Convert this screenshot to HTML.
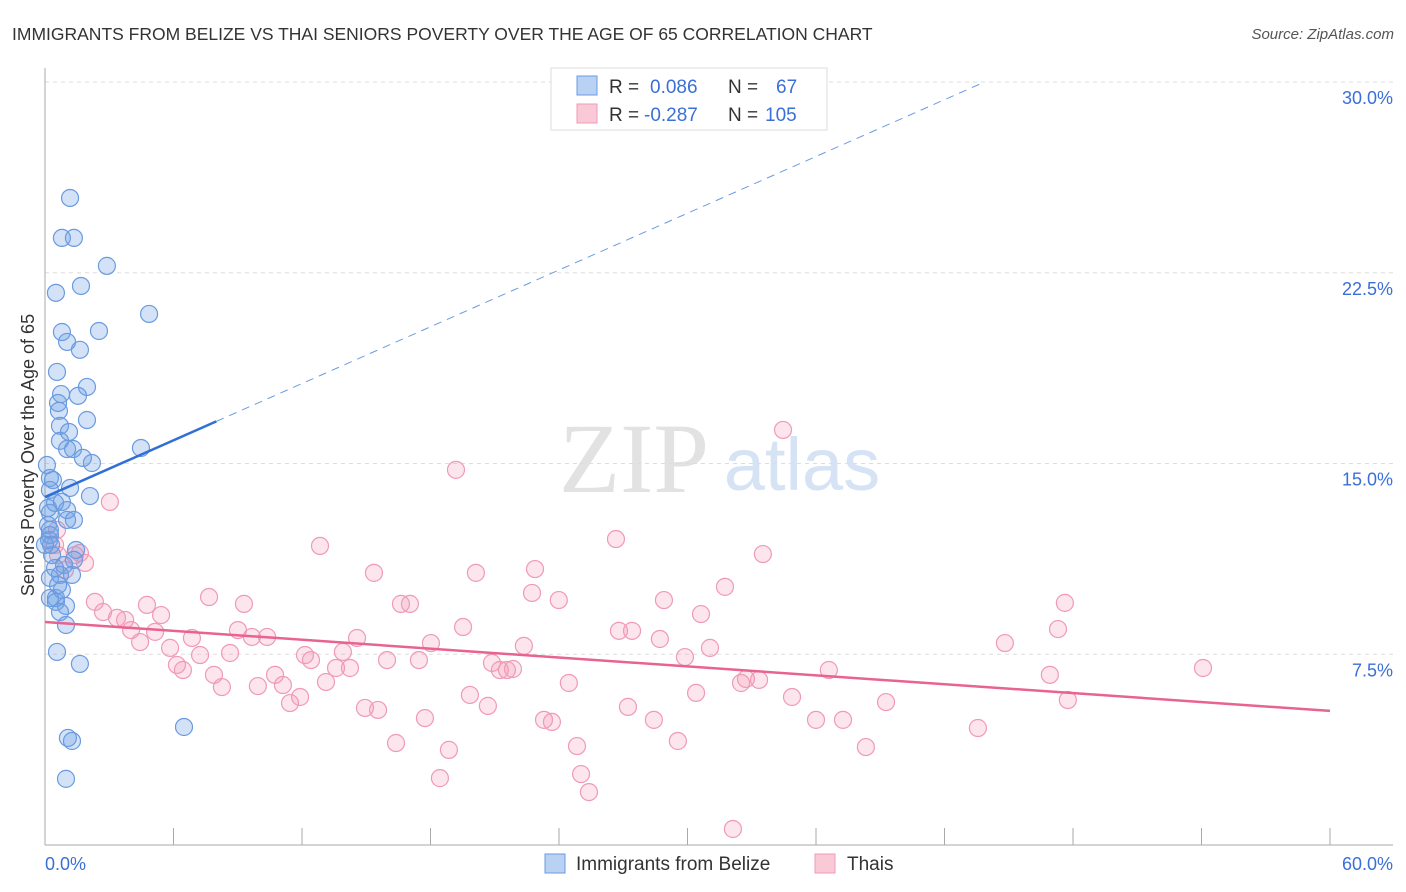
<!DOCTYPE html>
<html><head><meta charset="utf-8">
<style>
body{margin:0;background:#fff;font-family:"Liberation Sans",sans-serif;}
svg{display:block}
</style></head>
<body>
<svg id="chart" width="1406" height="892">
<text x="12" y="40" font-size="17.5" fill="#333">IMMIGRANTS FROM BELIZE VS THAI SENIORS POVERTY OVER THE AGE OF 65 CORRELATION CHART</text>
<text x="1394" y="39" font-size="15" fill="#555" font-style="italic" text-anchor="end">Source: ZipAtlas.com</text>
<g>
<text x="634" y="492" font-size="100" font-family="Liberation Serif,serif" fill="#e2e2e2" text-anchor="middle">ZIP</text>
<text x="802" y="490" font-size="74" fill="#d5e3f5" text-anchor="middle">atlas</text>
</g>
<g id="grid"></g>
<g id="axes"></g>
<g id="points"></g>
<g id="trends"></g>
<text transform="translate(34,455) rotate(-90)" font-size="18" fill="#333" text-anchor="middle">Seniors Poverty Over the Age of 65</text>
<g>
<rect x="551" y="68" width="276" height="62" fill="#fff" stroke="#ddd"/>
<rect x="577" y="76" width="20" height="19" fill="#b9d1f3" stroke="#6a9be0"/>
<rect x="577" y="104" width="20" height="19" fill="#f9c9d7" stroke="#f09ab5"/>
<text x="609" y="93" font-size="19" fill="#333">R = <tspan fill="#3a6fd8" x="650">0.086</tspan><tspan x="728">N =</tspan><tspan fill="#3a6fd8" x="776">67</tspan></text>
<text x="609" y="121" font-size="19" fill="#333">R = <tspan fill="#3a6fd8" x="644">-0.287</tspan><tspan x="728">N =</tspan><tspan fill="#3a6fd8" x="765">105</tspan></text>
</g>
<g>
<rect x="545" y="854" width="20" height="19" fill="#b9d1f3" stroke="#6a9be0"/>
<text x="576" y="870" font-size="19" fill="#333">Immigrants from Belize</text>
<rect x="815" y="854" width="20" height="19" fill="#f9c9d7" stroke="#f09ab5"/>
<text x="847" y="870" font-size="19" fill="#333">Thais</text>
</g>
</svg>
<script>
const yTicks=[7.5,15,22.5,30];
const yTickLabels=["7.5%","15.0%","22.5%","30.0%"];
const xTicks=[0,6,12,18,24,30,36,42,48,54,60];
const xEndLabels=["0.0%","60.0%"];
const belizeX=[1.17,0.79,1.35,2.89,0.51,1.68,4.86,2.52,0.79,1.03,1.63,0.56,1.96,0.75,1.54,0.61,1.96,0.65,0.70,1.12,0.70,1.03,1.31,2.19,1.77,4.48,0.09,0.23,1.17,0.23,2.10,0.47,0.79,1.03,0.23,1.03,1.35,0.14,0.23,0.19,0.28,1.45,0.33,1.35,0.89,0.47,1.26,0.70,0.23,0.23,0.51,0.98,0.51,0.70,0.98,0.56,1.63,6.49,1.07,1.26,0.98,0.23,0,0.14,0.37,0.79,0.61];
const belizeY=[25.44,23.87,23.87,22.77,21.71,21.98,20.88,20.21,20.17,19.78,19.47,18.60,18.01,17.73,17.66,17.38,16.71,17.07,16.48,16.24,15.89,15.57,15.57,15.02,15.22,15.61,14.94,14.43,14.04,13.96,13.72,13.45,13.49,13.17,13.06,12.78,12.78,12.58,12.19,11.99,11.80,11.60,11.40,11.21,11.01,10.89,10.62,10.62,10.50,9.71,9.71,9.40,9.56,9.16,8.65,7.59,7.12,4.64,4.21,4.09,2.60,12.39,11.80,13.25,14.35,10.03,10.22];
const thaiX=[3.03,0.56,0.47,0.61,1.40,1.87,0.93,1.63,2.33,2.71,3.36,3.74,4.02,4.76,5.14,5.42,4.44,5.84,6.16,6.44,6.86,7.24,7.66,7.89,8.26,8.64,9.01,9.29,9.66,9.94,10.37,10.74,11.11,11.44,11.91,12.14,12.42,12.84,13.12,13.59,13.91,14.24,14.57,14.94,15.36,15.55,15.97,16.39,16.62,17.04,17.46,17.74,18.02,18.44,18.86,19.19,19.52,19.84,20.12,20.68,20.87,21.24,21.57,21.85,22.36,22.74,22.88,23.30,23.67,23.99,24.46,24.84,25.03,25.40,26.66,26.80,27.22,27.41,28.43,28.71,28.90,29.55,29.88,30.40,30.63,31.05,31.75,32.12,32.50,32.73,33.34,33.52,34.46,34.88,36.00,36.60,37.26,38.33,39.27,43.56,44.82,46.92,47.30,47.62,47.76,54.07];
const thaiY=[13.49,12.39,11.80,11.40,11.40,11.09,10.81,11.48,9.56,9.16,8.93,8.85,8.45,9.44,8.38,9.04,7.98,7.75,7.08,6.88,8.14,7.47,9.75,6.69,6.21,7.55,8.45,9.48,8.18,6.25,8.18,6.69,6.29,5.58,5.82,7.47,7.27,11.76,6.41,6.96,7.59,6.96,8.14,5.39,10.70,5.31,7.27,4.01,9.48,9.48,7.27,4.99,7.94,2.63,3.74,14.75,8.57,5.90,10.70,5.47,7.16,6.88,6.88,6.92,7.83,9.91,10.85,4.92,4.84,9.63,6.37,3.89,2.79,2.08,12.03,8.42,5.43,8.42,4.92,8.10,9.63,4.09,7.39,5.98,9.08,7.75,10.15,0.63,6.37,6.53,6.49,11.44,16.32,5.82,4.92,6.88,4.92,3.85,5.62,4.60,7.94,6.69,8.49,9.52,5.70,6.96];
const belizeTrend=[13.68,0.372];
const thaiTrend=[8.77,-0.0583];

const NS="http://www.w3.org/2000/svg";
const X0=45,X1=1330,Y0=845,YTOP=82;
const xs=v=>X0+(X1-X0)*v/60;
const ys=v=>Y0-(Y0-YTOP)*v/30;
function mk(tag,attrs,parent){const e=document.createElementNS(NS,tag);for(const k in attrs)e.setAttribute(k,attrs[k]);document.getElementById(parent).appendChild(e);return e;}

yTicks.forEach((t,i)=>{
  const l=mk('line',{x1:X0,x2:1393,y1:ys(t),y2:ys(t),stroke:'#ddd','stroke-dasharray':'4,4'},'grid');
  
  
  const tx=mk('text',{x:1393,y:ys(t)+22,'font-size':18,fill:'#3a6fd8','text-anchor':'end'},'axes');
  tx.textContent=yTickLabels[i];
  
  
});
let ax=mk('line',{x1:X0,x2:1393,y1:Y0,y2:Y0,stroke:'#aaa'},'axes');


let ay=mk('line',{x1:X0,x2:X0,y1:68,y2:Y0,stroke:'#aaa'},'axes');


xTicks.forEach(t=>{
  const l=mk('line',{x1:xs(t),x2:xs(t),y1:828,y2:Y0,stroke:'#aaa'},'axes');
  
  
});
let xl0=mk('text',{x:45,y:870,'font-size':18,fill:'#3a6fd8'},'axes');xl0.textContent=xEndLabels[0];


let xl1=mk('text',{x:1393,y:870,'font-size':18,fill:'#3a6fd8','text-anchor':'end'},'axes');xl1.textContent=xEndLabels[1];



thaiX.forEach((v,i)=>{
  const c=mk('circle',{cx:xs(v),cy:ys(thaiY[i]),r:8.5,fill:'rgba(244,150,180,0.25)',stroke:'#f09ab5','stroke-width':1.2},'points');
  
  
});
belizeX.forEach((v,i)=>{
  const c=mk('circle',{cx:xs(v),cy:ys(belizeY[i]),r:8.5,fill:'rgba(110,160,230,0.3)',stroke:'#6a9be0','stroke-width':1.2},'points');
  
  
});
const bt=x=>belizeTrend[0]+belizeTrend[1]*x;
let b1=mk('line',{x1:xs(0),y1:ys(bt(0)),x2:xs(8),y2:ys(bt(8)),stroke:'#2f6fd6','stroke-width':2.5},'trends');


const xe=(30-belizeTrend[0])/belizeTrend[1];
let b2=mk('line',{x1:xs(8),y1:ys(bt(8)),x2:xs(xe),y2:ys(30),stroke:'#6a9be0','stroke-width':1,'stroke-dasharray':'8,6'},'trends');


const tt=x=>thaiTrend[0]+thaiTrend[1]*x;
let t1=mk('line',{x1:xs(0),y1:ys(tt(0)),x2:xs(60),y2:ys(tt(60)),stroke:'#e8638f','stroke-width':2.5},'trends');


</script>
</body></html>
